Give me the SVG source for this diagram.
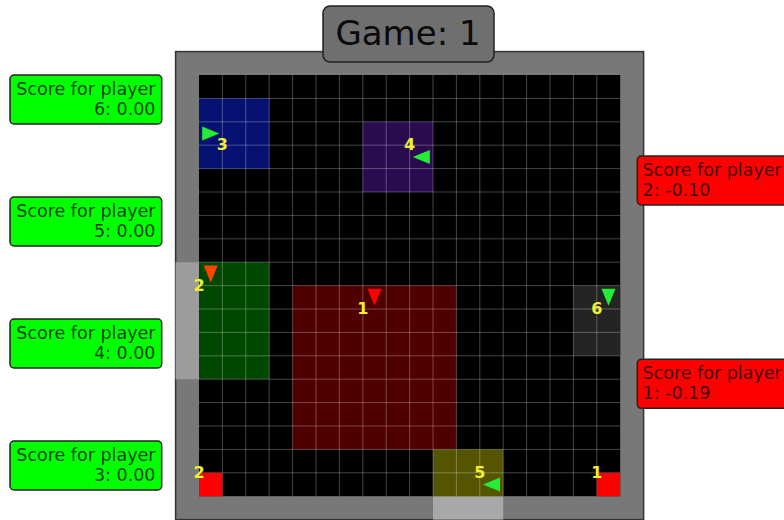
<svg xmlns="http://www.w3.org/2000/svg" width="784" height="520" viewBox="0 0 784 520">
<style>
.score{font-family:"DejaVu Sans","Liberation Sans",sans-serif;font-size:17.5px;fill:#000;fill-opacity:0.75}
.lbl{font-family:"DejaVu Sans","Liberation Sans",sans-serif;font-size:16px;font-weight:bold;fill:#f0f030;text-anchor:middle}
.box{stroke:#222;stroke-width:1.5}
.grid{stroke:#fff;stroke-opacity:0.27;stroke-width:1;fill:none}
.ag{stroke:none}
</style>
<rect width="784" height="520" fill="#fff"/>
<g id="board">
<rect x="175.6" y="51.6" width="468" height="468" fill="#787878" stroke="#333" stroke-width="1.5"/>
<rect x="199" y="75" width="421.2" height="421.2" fill="#000"/>
<rect x="175.6" y="262.2" width="23.4" height="117" fill="#9c9c9c"/>
<rect x="433" y="496.2" width="70.2" height="23.4" fill="#a8a8a8"/>
</g>
<g id="regions">
<rect id="region-blue" x="199" y="98.4" width="70.2" height="70.2" fill="#061272"/>
<rect id="region-purple" x="362.8" y="121.8" width="70.2" height="70.2" fill="#2b0b50"/>
<rect id="region-green" x="199" y="262.2" width="70.2" height="117" fill="#004800"/>
<rect id="region-red" x="292.6" y="285.6" width="163.8" height="163.8" fill="#4f0000"/>
<rect id="region-gray" x="573.4" y="285.6" width="46.8" height="70.2" fill="#242424"/>
<rect id="region-olive" x="433" y="449.4" width="70.2" height="46.8" fill="#555500"/>
</g>
<path class="grid" d="M222.4 75V496.2M245.8 75V496.2M269.2 75V496.2M292.6 75V496.2M316 75V496.2M339.4 75V496.2M362.8 75V496.2M386.2 75V496.2M409.6 75V496.2M433 75V496.2M456.4 75V496.2M479.8 75V496.2M503.2 75V496.2M526.6 75V496.2M550 75V496.2M573.4 75V496.2M596.8 75V496.2M199 98.4H620.2M199 121.8H620.2M199 145.2H620.2M199 168.6H620.2M199 192H620.2M199 215.4H620.2M199 238.8H620.2M199 262.2H620.2M199 285.6H620.2M199 309H620.2M199 332.4H620.2M199 355.8H620.2M199 379.2H620.2M199 402.6H620.2M199 426H620.2M199 449.4H620.2M199 472.8H620.2"/>
<g id="goals">
<g id="goal-2"><rect x="199" y="472.8" width="23.4" height="23.4" fill="#ff0000"/><text class="lbl" x="199" y="477.8">2</text></g>
<g id="goal-1"><rect x="596.8" y="472.8" width="23.4" height="23.4" fill="#ff0000"/><text class="lbl" x="596.8" y="477.8">1</text></g>
</g>
<g id="agents">
<g id="agent-3"><polygon class="ag" points="202.2,126.5 202.2,140.5 219.2,133.5" fill="#22ee33"/><text class="lbl" x="222.4" y="150.2">3</text></g>
<g id="agent-4"><polygon class="ag" points="429.8,149.9 429.8,163.9 412.8,156.9" fill="#22ee33"/><text class="lbl" x="409.6" y="150.2">4</text></g>
<g id="agent-2"><polygon class="ag" points="203.7,265.4 217.7,265.4 210.7,282.4" fill="#ff4500"/><text class="lbl" x="199" y="290.6">2</text></g>
<g id="agent-1"><polygon class="ag" points="367.5,288.8 381.5,288.8 374.5,305.8" fill="#ff0000"/><text class="lbl" x="362.8" y="314">1</text></g>
<g id="agent-6"><polygon class="ag" points="601.5,288.8 615.5,288.8 608.5,305.8" fill="#22ee33"/><text class="lbl" x="596.8" y="314">6</text></g>
<g id="agent-5"><polygon class="ag" points="500,477.5 500,491.5 483,484.5" fill="#22ee33"/><text class="lbl" x="479.8" y="477.8">5</text></g>
</g>
<g id="title">
<rect class="box" x="323" y="6" width="171" height="56" rx="7" fill="#6f6f6f"/>
<text x="408" y="45" font-family="DejaVu Sans, Liberation Sans, sans-serif" font-size="34" fill="#0a0a0a" text-anchor="middle">Game: 1</text>
</g>
<g id="score-6">
<rect class="box" x="10" y="75" width="151.7" height="49" rx="4" fill="#00ff00"/>
<text class="score" x="155.5" y="95" text-anchor="end">Score for player</text>
<text class="score" x="155.5" y="115" text-anchor="end">6: 0.00</text>
</g>
<g id="score-5">
<rect class="box" x="10" y="197" width="151.7" height="49" rx="4" fill="#00ff00"/>
<text class="score" x="155.5" y="217" text-anchor="end">Score for player</text>
<text class="score" x="155.5" y="237" text-anchor="end">5: 0.00</text>
</g>
<g id="score-4">
<rect class="box" x="10" y="319" width="151.7" height="49" rx="4" fill="#00ff00"/>
<text class="score" x="155.5" y="339" text-anchor="end">Score for player</text>
<text class="score" x="155.5" y="359" text-anchor="end">4: 0.00</text>
</g>
<g id="score-3">
<rect class="box" x="10" y="441" width="151.7" height="49" rx="4" fill="#00ff00"/>
<text class="score" x="155.5" y="461" text-anchor="end">Score for player</text>
<text class="score" x="155.5" y="481" text-anchor="end">3: 0.00</text>
</g>
<g id="score-2">
<rect class="box" x="637.3" y="156" width="160" height="49" rx="4" fill="#ff0000"/>
<text class="score" x="642.5" y="175.5">Score for player</text>
<text class="score" x="642.5" y="195.5">2: -0.10</text>
</g>
<g id="score-1">
<rect class="box" x="637.3" y="359.3" width="160" height="49" rx="4" fill="#ff0000"/>
<text class="score" x="642.5" y="378.8">Score for player</text>
<text class="score" x="642.5" y="398.8">1: -0.19</text>
</g>
<g id="connectors"/>
</svg>
